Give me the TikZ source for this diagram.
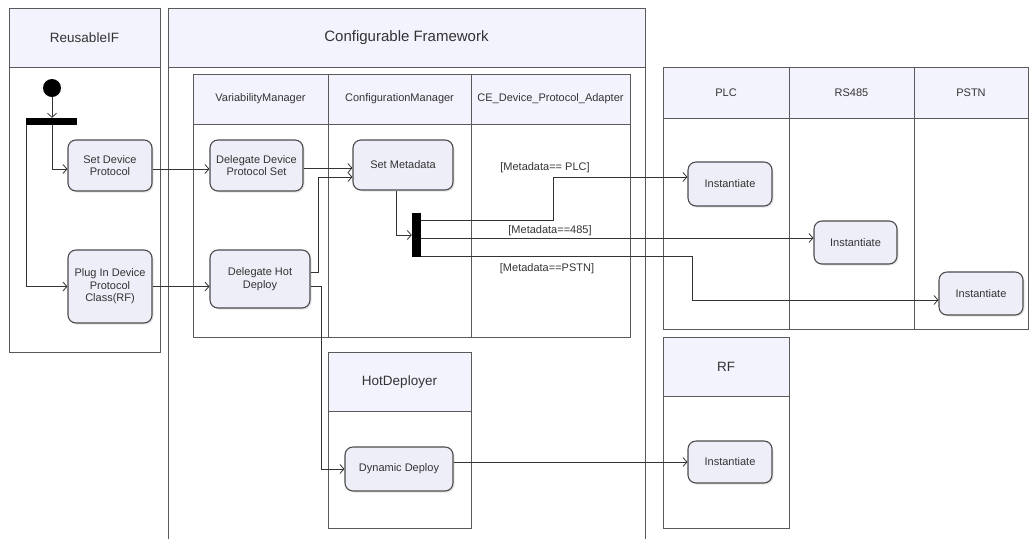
\documentclass[tikz,border=0pt]{standalone}
\usepackage{fontspec}
\setmainfont{Liberation Sans}
\usetikzlibrary{positioning, arrows.meta, shadows}

\definecolor{laneln}{HTML}{5A5A5A}
\definecolor{headbg}{HTML}{F3F3FD}
\definecolor{actbg}{HTML}{EEEEF9}
\definecolor{txt}{HTML}{333333}

\begin{document}
\begin{tikzpicture}[x=1pt, y=-1pt,
     lane/.style = {draw=laneln, line width=1pt},
     head/.style = {rectangle, draw=laneln, line width=1pt, fill=headbg, inner sep=0pt, text=txt, font=\fontsize{11}{13}\selectfont},
  bighead/.style = {head, font=\fontsize{13.5}{15}\selectfont},
      act/.style = {rectangle, rounded corners=8pt, draw=black!70, line width=1.1pt, fill=actbg, align=center,
                    inner sep=2pt, text=txt, font=\fontsize{11}{12.5}\selectfont,
                    drop shadow={shadow xshift=1.5pt, shadow yshift=-1.5pt, fill=black!20}},
      bar/.style = {rectangle, fill=black, inner sep=0pt},
    guard/.style = {font=\fontsize{11}{13}\selectfont, text=txt, inner sep=1pt},
     flow/.style = {draw=black!80, line width=0.8pt, -{Straight Barb[length=4pt, width=9pt]}}
                        ]
\useasboundingbox (0,0) rectangle (1030,539);
% swimlanes
\draw[lane] (9,8) rectangle (160,352);
\node (reusehd) [bighead, minimum width=151pt, minimum height=59pt] at (84.5,37.5) {ReusableIF};
\draw[lane] (168,539) |- (645,8) -- (645,539);
\node (cfwhd) [head, font=\fontsize{15}{17}\selectfont, minimum width=477pt, minimum height=59pt] at (406.5,37.5) {Configurable Framework};
\draw[lane] (193,74) rectangle (630,337);
\draw[lane] (328,124) -- (328,337) (471,124) -- (471,337);
\node (varhd) [head, minimum width=135pt, minimum height=50pt] at (260.5,99) {VariabilityManager};
\node (cfghd) [head, minimum width=143pt, minimum height=50pt] at (399.5,99) {ConfigurationManager};
\node (adphd) [head, minimum width=159pt, minimum height=50pt] at (550.5,99) {CE\_Device\_Protocol\_Adapter};
\draw[lane] (328,352) rectangle (471,528);
\node (hothd) [bighead, minimum width=143pt, minimum height=59pt] at (399.5,381.5) {HotDeployer};
\draw[lane] (663,67) rectangle (1028,329);
\draw[lane] (789,118) -- (789,329) (914,118) -- (914,329);
\node (plchd) [head, minimum width=126pt, minimum height=51pt] at (726,92.5) {PLC};
\node (rshd) [head, minimum width=125pt, minimum height=51pt] at (851.5,92.5) {RS485};
\node (pstnhd) [head, minimum width=114pt, minimum height=51pt] at (971,92.5) {PSTN};
\draw[lane] (663,337) rectangle (789,528);
\node (rfhd) [bighead, minimum width=126pt, minimum height=59pt] at (726,366.5) {RF};

% activities
\node (start) [circle, fill=black, minimum size=18pt, inner sep=0pt] at (52,88) {};
\node (fork1) [bar, minimum width=51pt, minimum height=7pt] at (51.5,121.5) {};
\node (setdev) [act, minimum width=84pt, minimum height=51pt] at (110,165.5) {Set Device\\Protocol};
\node (plugin) [act, minimum width=84pt, minimum height=73pt] at (110,286.5) {Plug In Device\\Protocol\\Class(RF)};
\node (delset) [act, minimum width=93pt, minimum height=51pt] at (256.5,165.5) {Delegate Device\\Protocol Set};
\node (delhot) [act, minimum width=100pt, minimum height=58pt] at (260,279) {Delegate Hot\\Deploy};
\node (setmeta) [act, minimum width=100pt, minimum height=50pt] at (403,165) {Set Metadata};
\node (fork2) [bar, minimum width=9pt, minimum height=44pt] at (416.5,235) {};
\node (dyndep) [act, minimum width=108pt, minimum height=44pt] at (399,469) {Dynamic Deploy};
\node (instplc) [act, minimum width=84pt, minimum height=44pt] at (730,184) {Instantiate};
\node (inst485) [act, minimum width=83pt, minimum height=43pt] at (855.5,242.5) {Instantiate};
\node (instpstn) [act, minimum width=84pt, minimum height=43pt] at (981,293.5) {Instantiate};
\node (instrf) [act, minimum width=84pt, minimum height=42pt] at (730,462) {Instantiate};

% guards
\node (gplc) [guard] at (545,168) {[Metadata== PLC]};
\node (g485) [guard] at (550,231) {[Metadata==485]};
\node (gpstn) [guard] at (547,269) {[Metadata==PSTN]};

% flows
\draw[flow] (start) -- (start |- fork1.north);
\draw[flow] (start |- fork1.south) |- ([yshift=-3.5pt]setdev.west);
\draw[flow] ([xshift=1pt]fork1.south west) |- (plugin.west);
\draw[flow] ([yshift=-3.5pt]setdev.east) -- ([yshift=-3.5pt]delset.west);
\draw[flow] (plugin.east) -- (plugin.east -| delhot.west);
\draw[flow] ([yshift=-2.5pt]delset.east) -- ([yshift=-3pt]setmeta.west);
\draw[flow] ([yshift=7pt]delhot.east) -- ++(8,0) |- ([yshift=-12pt]setmeta.west);
\draw[flow] ([yshift=-7pt]delhot.east) -- ++(11,0) |- (dyndep.west);
\draw[flow] ([xshift=-7pt]setmeta.south) |- (fork2.west);
\draw[flow] ([yshift=15pt]fork2.east) -- ++(132,0) |- ([yshift=7pt]instplc.west);
\draw[flow] ([yshift=-3pt]fork2.east) -- ([yshift=4.5pt]inst485.west);
\draw[flow] ([yshift=-21pt]fork2.east) -- ++(271,0) |- ([yshift=-6.5pt]instpstn.west);
\draw[flow] ([yshift=7pt]dyndep.east) -- (instrf.west);
\end{tikzpicture}
\end{document}
